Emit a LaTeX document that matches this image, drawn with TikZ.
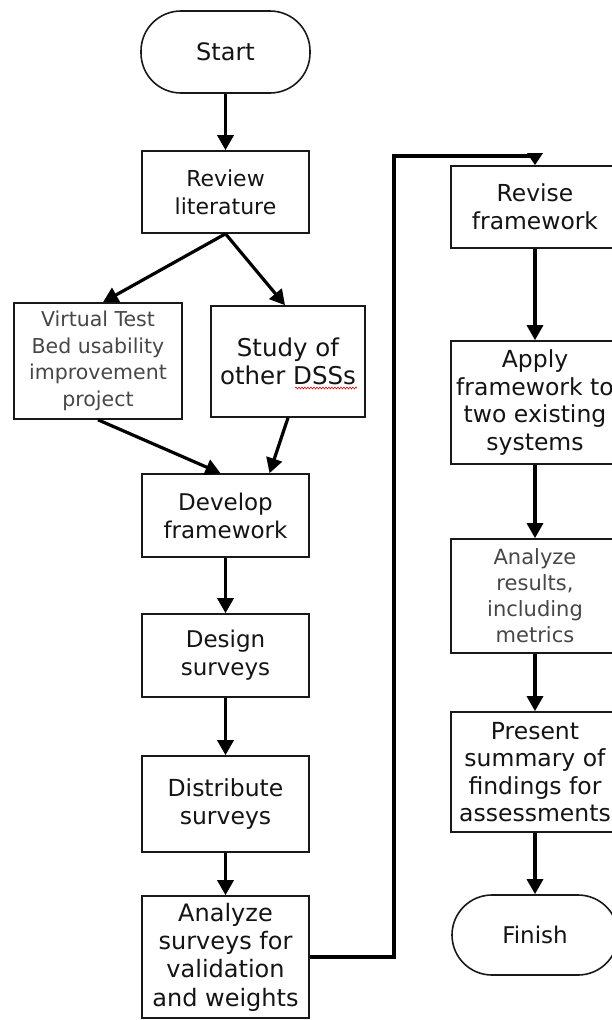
\documentclass[tikz,border=0pt]{standalone}
\usepackage{fontspec}
\setmainfont{DejaVu Sans}
\usetikzlibrary{arrows.meta,decorations.pathmorphing}

\newcommand{\fsz}[2]{\fontsize{#1}{#2}\selectfont}

\tikzset{
  box/.style={draw=black!90, line width=1.6pt, inner sep=0pt, align=center, text=black!92},
  term/.style={box, rounded corners=40pt},
  flow/.style={line width=3.2pt, -{Triangle[width=16pt,length=15pt]}},
  loopflow/.style={line width=3.2pt, line join=miter, -{Triangle[width=15pt,length=12pt]}},
  spell/.style={draw=red!85!black, line width=0.6pt, decorate,
                decoration={snake, amplitude=0.9pt, segment length=3pt}},
}

\begin{document}
\begin{tikzpicture}[x=1pt,y=-1pt]
\useasboundingbox (0,0) rectangle (612,1020);
\clip (0,0) rectangle (612,1020);
\fill[white] (0,0) rectangle (612,1020);

% left column
\node[term, minimum width=169pt, minimum height=82pt, font=\fsz{24}{28}] (start) at (225.5,52) {Start};
\node[box, minimum width=167pt, minimum height=82pt, font=\fsz{22}{28}] (review) at (225.5,192) {Review\\literature};
\node[box, minimum width=168pt, minimum height=116pt, font=\fsz{20.5}{26.5}, text=black!72] (vtb) at (98,361) {Virtual Test\\Bed usability\\improvement\\project};
\node[box, minimum width=154pt, minimum height=111pt, font=\fsz{24.5}{28.5}] (study) at (288,361.5) {Study of\\other DSSs};
\node[box, minimum width=167pt, minimum height=83pt, font=\fsz{23}{28}] (develop) at (225.5,515.5) {Develop\\framework};
\node[box, minimum width=167pt, minimum height=83pt, font=\fsz{23}{28}] (design) at (225.5,655.5) {Design\\surveys};
\node[box, minimum width=167pt, minimum height=96pt, font=\fsz{23.5}{28}] (distribute) at (225.5,804) {Distribute\\surveys};
\node[box, minimum width=167pt, minimum height=122pt, font=\fsz{24}{28.3}] (asurveys) at (225.5,957) {Analyze\\surveys for\\validation\\and weights};

% right column
\node[box, minimum width=168pt, minimum height=82pt, font=\fsz{23.4}{28}] (revise) at (535,207) {Revise\\framework};
\node[box, minimum width=168pt, minimum height=123pt, font=\fsz{23.5}{27.4}] (apply) at (535,402.5) {Apply\\framework to\\two existing\\systems};
\node[box, minimum width=168pt, minimum height=114pt, font=\fsz{21}{26}, text=black!72] (results) at (535,596) {Analyze\\results,\\including\\metrics};
\node[box, minimum width=168pt, minimum height=120pt, font=\fsz{23.5}{27.2}] (present) at (535,772) {Present\\summary of\\findings for\\assessments};
\node[term, minimum width=166pt, minimum height=80pt, font=\fsz{23}{28}] (finish) at (535,935) {Finish};

% spelling mark under the abbreviation
\draw[spell] (295,388) -- (357,388);

% connectors
\draw[flow] (start.south) -- (review.north);
\draw[flow] (review.south) -- ([xshift=5pt]vtb.north);
\draw[flow] (review.south) -- ([xshift=-3pt]study.north);
\draw[flow] (vtb.south) -- ([xshift=-5pt]develop.north);
\draw[flow] (study.south) -- ([xshift=44pt]develop.north);
\draw[flow] (develop.south) -- (design.north);
\draw[flow] (design.south) -- (distribute.north);
\draw[flow] (distribute.south) -- (asurveys.north);

\coordinate (loopup) at (394,957);
\coordinate (looptop) at (535,156);
\draw[loopflow] (asurveys.east) -- (loopup) |- (looptop) -- (revise.north);

\draw[flow] (revise.south) -- (apply.north);
\draw[flow] (apply.south) -- (results.north);
\draw[flow] (results.south) -- (present.north);
\draw[flow] (present.south) -- (finish.north);
\end{tikzpicture}
\end{document}
